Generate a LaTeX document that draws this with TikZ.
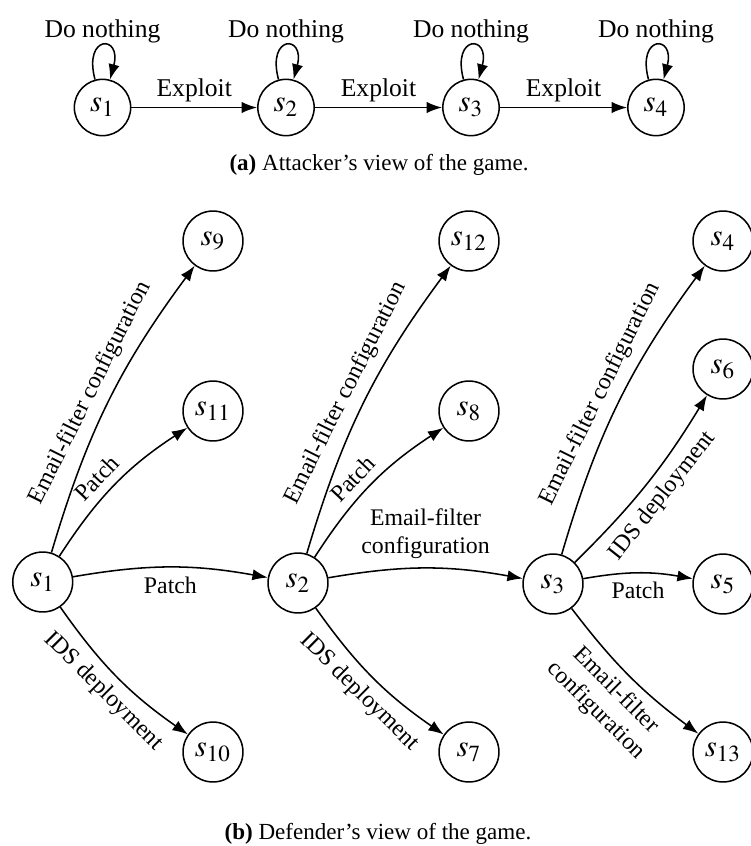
\documentclass[tikz,border=0pt]{standalone}
\usepackage{mathptmx}
\usepackage[no-math]{fontspec}
\setmainfont{Liberation Serif}
\usetikzlibrary{arrows.meta}

\begin{document}
\begin{tikzpicture}[x=0.3906pt,y=0.3906pt,
  stnode/.style={circle,draw,semithick,minimum size=22pt,inner sep=0pt,font=\large},
  bstnode/.style={stnode,minimum size=23.4pt},
  act/.style={semithick,-{Latex[length=6pt,width=4.4pt]}},
  small/.style={font=\fontsize{9.3}{11}\selectfont}]
\useasboundingbox (0,0) rectangle (751,-846);

% Attacker's view
\node[stnode] (a1) at (102.5,-107.5) {$s_1$};
\node[stnode] (a2) at (286,-107.5) {$s_2$};
\node[stnode] (a3) at (471,-107.5) {$s_3$};
\node[stnode] (a4) at (656,-107.5) {$s_4$};

\foreach \i in {1,...,4}
  \draw[act] (a\i) to[loop above] node[above,inner sep=0.8pt] {Do nothing} ();
\foreach \i/\j in {1/2,2/3,3/4}
  \draw[act] (a\i) -- node[above,inner sep=2pt] {Exploit} (a\j);

\node[font=\small] (capa) at (379,-165) {\textbf{(a)} Attacker's view of the game.};

% Defender's view
\node[bstnode] (d1) at (42.7,-582) {$s_1$};
\node[bstnode] (d2) at (298,-583) {$s_2$};
\node[bstnode] (d3) at (553,-584) {$s_3$};
\node[bstnode] (d9) at (213,-241) {$s_9$};
\node[bstnode] (d11) at (213,-411) {$s_{11}$};
\node[bstnode] (d10) at (213,-752) {$s_{10}$};
\node[bstnode] (d12) at (469,-241) {$s_{12}$};
\node[bstnode] (d8) at (469,-411) {$s_8$};
\node[bstnode] (d7) at (469,-752) {$s_7$};
\node[bstnode] (d4) at (723,-241) {$s_4$};
\node[bstnode] (d6) at (723,-369) {$s_6$};
\node[bstnode] (d5) at (723,-584) {$s_5$};
\node[bstnode] (d13) at (723,-752) {$s_{13}$};

% from s1
\draw[act] (d1) to[bend left=10] node[small,sloped,above] {Email-filter configuration} (d9);
\draw[act] (d1) to[bend left=12] node[small,sloped,above,pos=0.45] {Patch} (d11);
\draw[act] (d1) to[bend left=10] node[small,below] {Patch} (d2);
\draw[act] (d1) to[bend right=10] node[small,sloped,below] {IDS deployment} (d10);

% from s2
\draw[act] (d2) to[bend left=10] node[small,sloped,above] {Email-filter configuration} (d12);
\draw[act] (d2) to[bend left=12] node[small,sloped,above,pos=0.45] {Patch} (d8);
\draw[act] (d2) to[bend left=10] node[small,above,align=center] {Email-filter\\configuration} (d3);
\draw[act] (d2) to[bend right=10] node[small,sloped,below] {IDS deployment} (d7);

% from s3
\draw[act] (d3) to[bend left=10] node[small,sloped,above] {Email-filter configuration} (d4);
\draw[act] (d3) to[bend right=7] node[small,sloped,below] {IDS deployment} (d6);
\draw[act] (d3) to[bend left=10] node[small,below] {Patch} (d5);
\draw[act] (d3) to[bend right=8] node[small,sloped,below,align=center] {Email-filter\\configuration} (d13);

\node[font=\small] (capb) at (378,-834) {\textbf{(b)} Defender's view of the game.};
\end{tikzpicture}
\end{document}
